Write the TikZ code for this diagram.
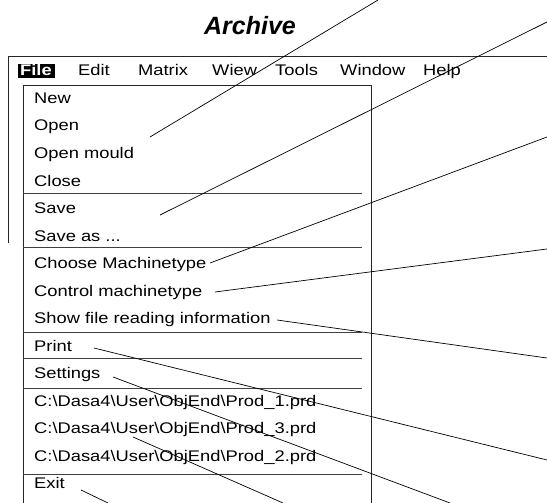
\documentclass[tikz,border=0pt]{standalone}
\usepackage{fontspec}
\setmainfont{Liberation Sans}
\newfontfamily\menufont{Liberation Sans}[FakeStretch=1.19]
\newcommand{\bsl}{\textbackslash}
\newcommand{\threedots}{...}

\begin{document}
\begin{tikzpicture}[x=1pt,y=-1pt,
  item/.style={anchor=base west,inner sep=0pt,font=\menufont\fontsize{15.4}{18}\selectfont},
  frame/.style={line width=0.9pt,draw=black!85},
  sep/.style={line width=0.8pt,draw=black!75},
  leader/.style={line width=0.7pt}]
  \useasboundingbox (0,0) rectangle (547,503);

  \node[anchor=base,inner sep=0pt,font=\bfseries\itshape\fontsize{25}{30}\selectfont] (title) at (250,35) {Archive};

  % window and menu bar
  \draw[frame] (8,243) -- (8,56) -- (547,56);
  \fill (18,64) rectangle (55,78);
  \node[item,text=white,font=\menufont\bfseries\fontsize{15.4}{18}\selectfont] (file) at (20,76) {File};
  \foreach \name/\x/\txt in {edit/78/Edit, matrix/138/Matrix, wiew/212/Wiew,
    tools/275/Tools, window/340/Window, help/423/Help}
    \node[item] (\name) at (\x,76) {\txt};

  % drop-down of File
  \draw[frame] (23,503) -- (23,85) -- (371,85) -- (371,503);
  \foreach \name/\y/\txt in {new/104/New, open/131/Open, mould/159/Open mould,
    close/186/Close, save/213/Save, saveas/241/{Save as \threedots},
    choose/268/Choose Machinetype, control/296/Control machinetype,
    show/323/Show file reading information, print/351/Print, settings/378/Settings,
    prodA/406/{C:\bsl Dasa4\bsl User\bsl ObjEnd\bsl Prod\_1.prd},
    prodC/433/{C:\bsl Dasa4\bsl User\bsl ObjEnd\bsl Prod\_3.prd},
    prodB/461/{C:\bsl Dasa4\bsl User\bsl ObjEnd\bsl Prod\_2.prd},
    exit/488/Exit}
    \node[item] (\name) at (34,\y) {\txt};
  \foreach \y in {193,247,332,358,388,474}
    \draw[sep] (23,\y) -- (362,\y);

  % leaders
  \coordinate (s1) at (150,137);  \coordinate (e1) at (378,0);
  \coordinate (s2) at (160,215);  \coordinate (e2) at (547,22);
  \coordinate (s3) at (210,263);  \coordinate (e3) at (547,137);
  \coordinate (s4) at (215,292);  \coordinate (e4) at (547,249);
  \coordinate (s5) at (277,320);  \coordinate (e5) at (547,358);
  \coordinate (s6) at (94,348);   \coordinate (e6) at (547,460);
  \coordinate (s7) at (113,377);  \coordinate (e7) at (450,503);
  \coordinate (s8) at (133,437);  \coordinate (e8) at (283,503);
  \coordinate (s9) at (81,490);   \coordinate (e9) at (108,503);
  \foreach \i in {1,...,9}
    \draw[leader] (s\i) -- (e\i);
\end{tikzpicture}
\end{document}
